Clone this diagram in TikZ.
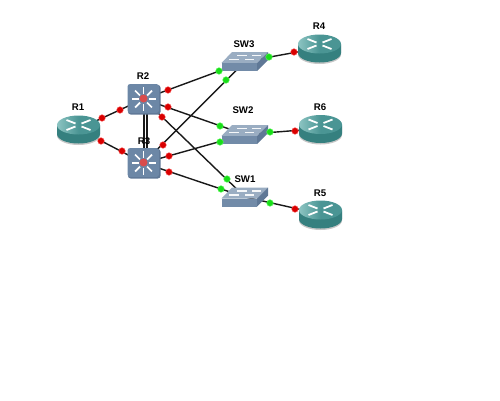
\documentclass[tikz,border=0pt]{standalone}
\usepackage{fontspec}
\setmainfont{Liberation Sans}
\definecolor{teallight}{HTML}{8CC4C2}
\definecolor{tealtop}{HTML}{4A9594}
\definecolor{tealside}{HTML}{35807F}
\definecolor{swtop}{HTML}{9AADC2}
\definecolor{swfront}{HTML}{728BA8}
\definecolor{swside}{HTML}{5F7896}
\definecolor{mlsblue}{HTML}{6C87A6}
\tikzset{
  devbox/.style={inner sep=0pt, minimum size=2pt},
  devlabel/.style={font=\bfseries\fontsize{5.5}{6}\selectfont, inner sep=0pt, text=black},
  link/.style={line width=0.8pt, black!90},
  updot/.style={circle, inner sep=0pt, minimum size=3.8pt, fill=green!85!black!90, draw=green!60!white, line width=0.2pt},
  reddot/.style={circle, inner sep=0pt, minimum size=3.8pt, fill=red!85!black, draw=red!60!white, line width=0.2pt},
  routericon/.pic={
    \fill[black!22] (-21.5,-3) -- (-21.5,6.5) arc[start angle=180, end angle=0, x radius=21.5, y radius=9.5] -- (21.5,-3) -- cycle;
    \fill[tealside] (-21.5,-4) -- (-21.5,5) arc[start angle=180, end angle=0, x radius=21.5, y radius=9.5] -- (21.5,-4) -- cycle;
    \shade[left color=teallight, right color=tealtop, middle color=tealtop] (0,-4) ellipse[x radius=21.5, y radius=9.5];
    \draw[white, line width=1pt] (-12,-9) -- (-3,-5.5) (12,-9) -- (3,-5.5) (-12,1) -- (-3,-2.5) (12,1) -- (3,-2.5);
  },
  switchicon/.pic={
    \fill[swtop] (-13,-9.5) -- (23,-9.5) -- (12,1.5) -- (-23.5,1.5) -- cycle;
    \fill[swfront] (-23.5,1.5) -- (12,1.5) -- (12,9.5) -- (-23.5,9.5) -- cycle;
    \fill[swside] (12,1.5) -- (23,-9.5) -- (23,-1.5) -- (12,9.5) -- cycle;
    \draw[white!90!swtop, line width=0.7pt] (-8,-6) -- (2,-6) (7,-6) -- (16,-6) (-16,-2) -- (-6,-2) (0,-2) -- (9,-2);
  },
  mlsicon/.pic={
    \fill[swside, rounded corners=1.5pt] (-15.5,-14) rectangle (17,15.5);
    \fill[mlsblue, rounded corners=1.5pt] (-16,-15) rectangle (15.5,14);
    \foreach \ang in {0,45,...,315}
      \draw[white, line width=1pt] (\ang:5) -- (\ang:12);
    \fill[red!65!white!85!black] (0,-0.5) circle (4);
  }
}
\begin{document}
\begin{tikzpicture}[x=0.02cm, y=-0.02cm]
  \useasboundingbox (0,0) rectangle (500,400);
  % devices
  \node[devbox] (R1) at (78.5,129) {};
  \node[devbox] (R2) at (143.5,99) {};
  \node[devbox] (R3) at (143.5,163) {};
  \node[devbox] (R4) at (319.5,48) {};
  \node[devbox] (R5) at (320.5,214) {};
  \node[devbox] (R6) at (320.5,128.5) {};
  \node[devbox] (SW1) at (245,197) {};
  \node[devbox] (SW2) at (245,134.5) {};
  \node[devbox] (SW3) at (245,61.5) {};
  % links
  \draw[link] (R1) -- (R2);
  \draw[link] (R1) -- (R3);
  \draw[link] (R2) -- (SW3);
  \draw[link] (R2) -- (SW2);
  \draw[link] (R2) -- (SW1);
  \draw[link] (R3) -- (SW3);
  \draw[link] (R3) -- (SW2);
  \draw[link] (R3) -- (SW1);
  \draw[link] (SW3) -- (R4);
  \draw[link] (SW2) -- (R6);
  \draw[link] (SW1) -- (R5);
  \draw[link] ([xshift=0.3pt]R2.center) -- ([xshift=0.3pt]R3.center);
  \draw[link] ([xshift=2pt]R2.center) -- ([xshift=2pt]R3.center);
  % icons
  \foreach \dev in {R1,R4,R5,R6}
    \pic at (\dev) {routericon};
  \foreach \dev in {SW1,SW2,SW3}
    \pic at (\dev) {switchicon};
  \foreach \dev in {R2,R3}
    \pic at (\dev) {mlsicon};
  % names
  \node[devlabel] (lblR1) at (78,107) {R1};
  \node[devlabel] (lblR2) at (143,76) {R2};
  \node[devlabel] (lblR3) at (144,141) {R3};
  \node[devlabel] (lblR4) at (319,26) {R4};
  \node[devlabel] (lblR5) at (320,193) {R5};
  \node[devlabel] (lblR6) at (320,107) {R6};
  \node[devlabel] (lblSW1) at (245,179) {SW1};
  \node[devlabel] (lblSW2) at (243,110) {SW2};
  \node[devlabel] (lblSW3) at (244,44) {SW3};
  % port lights
  \foreach \x/\y/\nm in {102/118/a,120/110/b,101/141/c,122/151/d,168/90/e,168/107/f,162/117/g,163/145/h,169/156/i,169/172/j,294/52/k,295/131/l,295/209/m}
    \node[reddot] (p\nm) at (\x,\y) {};
  \foreach \x/\y/\nm in {219/71/a,220/126/b,227/179/c,226/80/d,220/142/e,221/189/f,269/57/g,270/132/h,270/203/i}
    \node[updot] (q\nm) at (\x,\y) {};
\end{tikzpicture}
\end{document}
